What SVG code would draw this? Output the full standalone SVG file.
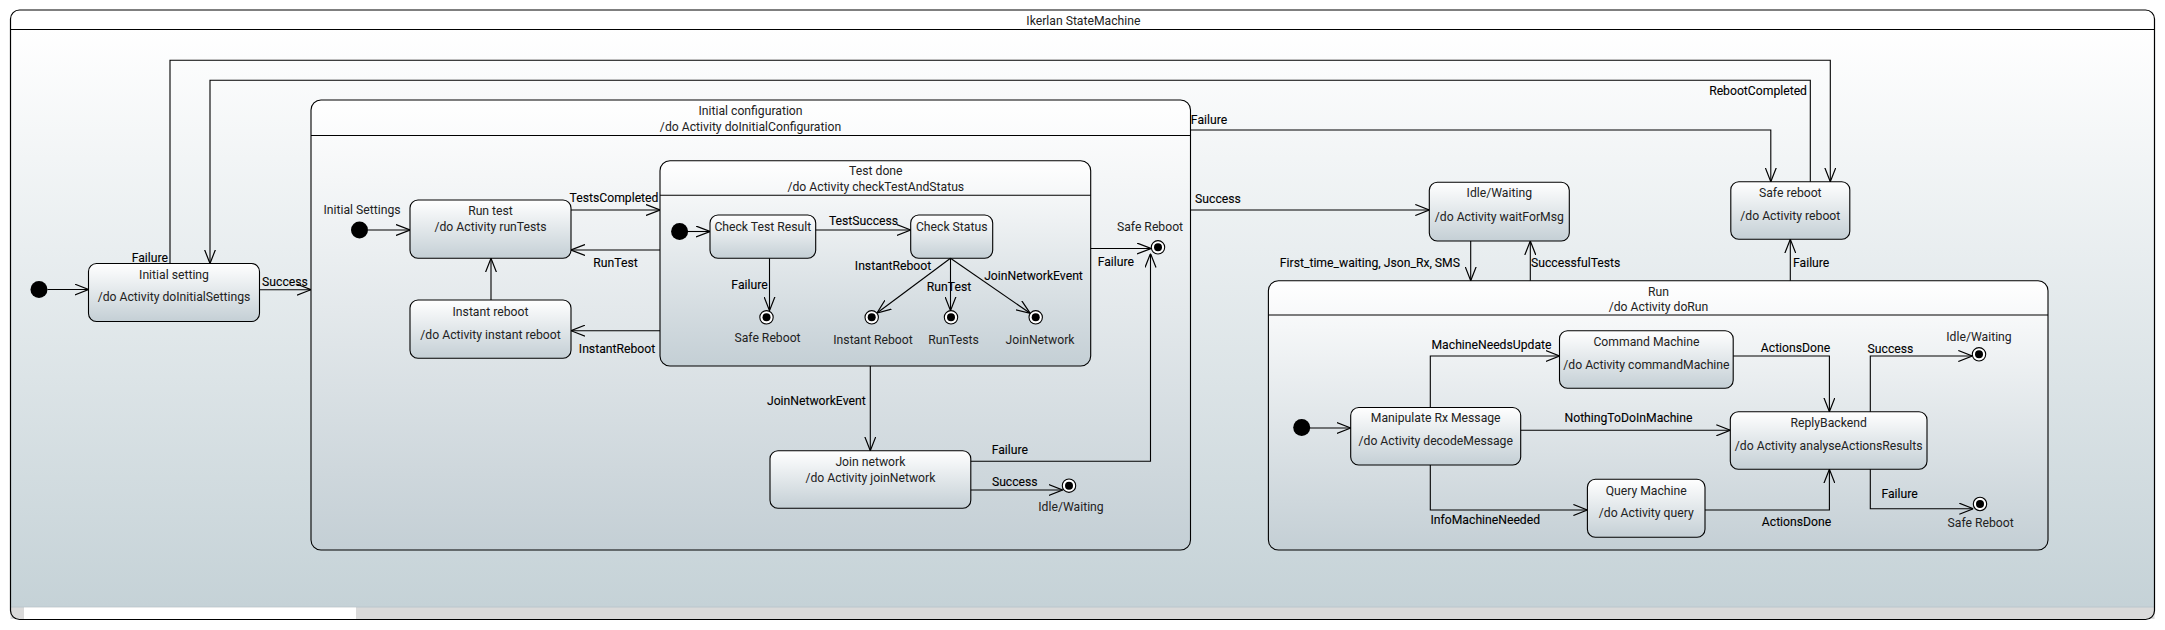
<svg xmlns="http://www.w3.org/2000/svg" width="2165" height="630" viewBox="0 0 2165 630">
<style>
text{font-family:Roboto,"Liberation Sans",sans-serif;font-size:12.2px;fill:#222}
.m{text-anchor:middle}
.e{text-anchor:end}
.l{fill:#000;stroke:#000;stroke-width:0.1}
.box{fill:url(#ng);stroke:#000;stroke-width:1.1}
.sep{stroke:#000;stroke-width:1.1}
.c{fill:none;stroke:#000;stroke-width:1.1;marker-end:url(#arr)}
.ini{fill:#000}
.fo{fill:#fff;stroke:#000;stroke-width:1.1}
.fi{fill:#000}
</style>
<defs>
<linearGradient id="ng" x1="0" y1="0" x2="0" y2="1">
<stop offset="0" stop-color="#ffffff"/>
<stop offset="1" stop-color="#c4cfd5"/>
</linearGradient>
<linearGradient id="bg" gradientUnits="userSpaceOnUse" x1="0" y1="29" x2="0" y2="607">
<stop offset="0" stop-color="#ffffff"/>
<stop offset="1" stop-color="#c5d2d7"/>
</linearGradient>
<marker id="arr" viewBox="0 0 14 12" refX="14" refY="6" markerWidth="14" markerHeight="12" markerUnits="userSpaceOnUse" orient="auto">
<path d="M0,0.5 L14,6 L0,11.5" fill="none" stroke="#000" stroke-width="1.2"/>
</marker>
</defs>

<g id="frame">
<rect x="10.5" y="10" width="2144" height="609.5" rx="9" fill="url(#bg)"/>
<rect x="10.5" y="607" width="2144" height="12" fill="#dadada"/>
<line x1="10.5" y1="607" x2="2154.5" y2="607" stroke="#bac6cc" stroke-width="1"/>
<rect x="24" y="607.5" width="332" height="11.5" fill="#ffffff"/>
<rect x="10.5" y="10" width="2144" height="609.5" rx="9" fill="none" stroke="#000" stroke-width="1.2"/>
<line class="sep" x1="10.5" y1="29.5" x2="2154.5" y2="29.5"/>
<text class="m" x="1083.4" y="25">Ikerlan StateMachine</text>
</g>

<g id="initial-top">
<circle class="ini" cx="39" cy="289.5" r="8.5"/>
</g>

<g id="initial-setting">
<rect class="box" x="88.5" y="263.5" width="171" height="58" rx="8"/>
<text class="m" x="174" y="278.5">Initial setting</text>
<text class="m" x="174" y="301">/do Activity doInitialSettings</text>
</g>

<g id="initial-configuration">
<rect class="box" x="311" y="100" width="879.5" height="450" rx="10"/>
<line class="sep" x1="311" y1="135.5" x2="1190.5" y2="135.5"/>
<text class="m" x="750.5" y="115">Initial configuration</text>
<text class="m" x="750.5" y="131">/do Activity doInitialConfiguration</text>
</g>

<g id="initial-settings-pseudo">
<circle class="ini" cx="359.5" cy="230" r="8.5"/>
<text class="m" x="362" y="213.5">Initial Settings</text>
</g>

<g id="run-test">
<rect class="box" x="410" y="200" width="161" height="58.3" rx="8"/>
<text class="m" x="490.5" y="215">Run test</text>
<text class="m" x="490.5" y="231">/do Activity runTests</text>
</g>

<g id="instant-reboot">
<rect class="box" x="410" y="300" width="161" height="58.3" rx="8"/>
<text class="m" x="490.5" y="315.5">Instant reboot</text>
<text class="m" x="490.5" y="338.5">/do Activity instant reboot</text>
</g>

<g id="test-done">
<rect class="box" x="660" y="160.7" width="430.7" height="205.3" rx="10"/>
<line class="sep" x1="660" y1="195.3" x2="1090.7" y2="195.3"/>
<text class="m" x="875.8" y="175.2">Test done</text>
<text class="m" x="875.8" y="191">/do Activity checkTestAndStatus</text>
</g>

<g id="test-done-initial">
<circle class="ini" cx="679.6" cy="231.5" r="8.5"/>
</g>

<g id="check-test-result">
<rect class="box" x="710" y="215" width="105.7" height="43.3" rx="8"/>
<text class="m" x="762.8" y="230.5">Check Test Result</text>
</g>

<g id="check-status">
<rect class="box" x="910.7" y="215" width="82" height="43.3" rx="8"/>
<text class="m" x="951.7" y="230.5">Check Status</text>
</g>

<g id="final-safe-reboot-inner">
<circle class="fo" cx="766.5" cy="317.3" r="6.7"/>
<circle class="fi" cx="766.5" cy="317.3" r="4"/>
<text class="m" x="767.5" y="342">Safe Reboot</text>
</g>

<g id="final-instant-reboot">
<circle class="fo" cx="871.7" cy="317.3" r="6.7"/>
<circle class="fi" cx="871.7" cy="317.3" r="4"/>
<text class="m" x="873" y="343.8">Instant Reboot</text>
</g>

<g id="final-run-tests">
<circle class="fo" cx="951" cy="317.3" r="6.7"/>
<circle class="fi" cx="951" cy="317.3" r="4"/>
<text class="m" x="953.5" y="343.8">RunTests</text>
</g>

<g id="final-join-network">
<circle class="fo" cx="1035.7" cy="317.3" r="6.7"/>
<circle class="fi" cx="1035.7" cy="317.3" r="4"/>
<text class="m" x="1040" y="343.8">JoinNetwork</text>
</g>

<g id="final-safe-reboot-config">
<circle class="fo" cx="1158" cy="247.3" r="6.7"/>
<circle class="fi" cx="1158" cy="247.3" r="4"/>
<text class="m" x="1150" y="230.5">Safe Reboot</text>
</g>

<g id="join-network">
<rect class="box" x="770" y="450.7" width="200.8" height="57.6" rx="8"/>
<text class="m" x="870.4" y="465.5">Join network</text>
<text class="m" x="870.4" y="481.5">/do Activity joinNetwork</text>
</g>

<g id="final-idle-config">
<circle class="fo" cx="1069" cy="485.7" r="6.7"/>
<circle class="fi" cx="1069" cy="485.7" r="4"/>
<text class="m" x="1071" y="510.5">Idle/Waiting</text>
</g>

<g id="idle-waiting">
<rect class="box" x="1429.3" y="182.3" width="140" height="58.7" rx="8"/>
<text class="m" x="1499.3" y="197.2">Idle/Waiting</text>
<text class="m" x="1499.3" y="220.5">/do Activity waitForMsg</text>
</g>

<g id="safe-reboot">
<rect class="box" x="1730.8" y="181.7" width="119" height="57.6" rx="8"/>
<text class="m" x="1790.3" y="196.5">Safe reboot</text>
<text class="m" x="1790.3" y="219.5">/do Activity reboot</text>
</g>

<g id="run">
<rect class="box" x="1268.4" y="280.7" width="779.6" height="269.3" rx="10"/>
<line class="sep" x1="1268.4" y1="315" x2="2048" y2="315"/>
<text class="m" x="1658.5" y="295.5">Run</text>
<text class="m" x="1658.5" y="311">/do Activity doRun</text>
</g>

<g id="run-initial">
<circle class="ini" cx="1301.7" cy="427.5" r="8.5"/>
</g>

<g id="manipulate-rx-message">
<rect class="box" x="1350.7" y="407.5" width="170" height="57.5" rx="8"/>
<text class="m" x="1435.7" y="422">Manipulate Rx Message</text>
<text class="m" x="1435.7" y="445">/do Activity decodeMessage</text>
</g>

<g id="command-machine">
<rect class="box" x="1559.5" y="330.7" width="173.7" height="57.6" rx="8"/>
<text class="m" x="1646.4" y="345.5">Command Machine</text>
<text class="m" x="1646.4" y="368.5">/do Activity commandMachine</text>
</g>

<g id="query-machine">
<rect class="box" x="1587.4" y="479.3" width="117.6" height="58" rx="8"/>
<text class="m" x="1646.2" y="494.5">Query Machine</text>
<text class="m" x="1646.2" y="517">/do Activity query</text>
</g>

<g id="reply-backend">
<rect class="box" x="1730.3" y="411.7" width="196.7" height="57.6" rx="8"/>
<text class="m" x="1828.7" y="426.5">ReplyBackend</text>
<text class="m" x="1828.7" y="449.5">/do Activity analyseActionsResults</text>
</g>

<g id="final-idle-run">
<circle class="fo" cx="1979" cy="354.3" r="6.7"/>
<circle class="fi" cx="1979" cy="354.3" r="4"/>
<text class="m" x="1979" y="340.5">Idle/Waiting</text>
</g>

<g id="final-safe-reboot-run">
<circle class="fo" cx="1980" cy="504" r="6.7"/>
<circle class="fi" cx="1980" cy="504" r="4"/>
<text class="m" x="1980.6" y="527">Safe Reboot</text>
</g>

<g id="connectors">
<path class="c" d="M47.5,289.5 H88.5"/>
<path class="c" d="M259.5,289.7 H311"/>
<text class="l m" x="285" y="285.5">Success</text>

<path class="c" d="M170,263.5 V60.3 H1830.3 V181.7"/>
<text class="l e" x="168" y="262">Failure</text>

<path class="c" d="M1810.3,181.7 V80.3 H210 V263.5"/>
<text class="l e" x="1807" y="95">RebootCompleted</text>

<path class="c" d="M368,230 H410"/>
<path class="c" d="M571,210 H660"/>
<text class="l m" x="614" y="202">TestsCompleted</text>
<path class="c" d="M660,250 H571"/>
<text class="l m" x="615.5" y="266.5">RunTest</text>
<path class="c" d="M660,330.7 H571"/>
<text class="l m" x="617" y="352.5">InstantReboot</text>
<path class="c" d="M491,300 V258.3"/>

<path class="c" d="M688,231.5 H710"/>
<path class="c" d="M815.7,230 H910.7"/>
<text class="l m" x="863.5" y="224.5">TestSuccess</text>
<path class="c" d="M769.5,258.3 V310.6"/>
<text class="l m" x="749.5" y="288.5">Failure</text>

<path class="c" d="M950.5,258.3 L877,313"/>
<text class="l m" x="893" y="269.5">InstantReboot</text>
<path class="c" d="M950.5,258.3 V310.6"/>
<text class="l m" x="949" y="290.5">RunTest</text>
<path class="c" d="M950.5,258.3 L1030.2,313.3"/>
<text class="l m" x="1033.5" y="279.5">JoinNetworkEvent</text>

<path class="c" d="M1090.7,248.5 H1151"/>
<text class="l m" x="1115.8" y="265.5">Failure</text>

<path class="c" d="M870.3,366 V450.7"/>
<text class="l m" x="816.3" y="405">JoinNetworkEvent</text>

<path class="c" d="M970.8,461.3 H1150.5 V253.5"/>
<text class="l m" x="1009.8" y="453.5">Failure</text>
<path class="c" d="M970.8,490 H1062.5"/>
<text class="l m" x="1014.8" y="485.5">Success</text>

<path class="c" d="M1190.5,130 H1770.8 V181.7"/>
<text class="l m" x="1209" y="123.5">Failure</text>
<path class="c" d="M1190.5,210 H1429.3"/>
<text class="l m" x="1218" y="202.5">Success</text>

<path class="c" d="M1470.7,241 V280.7"/>
<text class="l e" x="1460" y="266.5">First_time_waiting, Json_Rx, SMS</text>
<path class="c" d="M1530.3,280.7 V241"/>
<text class="l" x="1531" y="266.5">SuccessfulTests</text>
<path class="c" d="M1790.3,280.7 V239.3"/>
<text class="l" x="1793" y="266.5">Failure</text>

<path class="c" d="M1310,428 H1350.7"/>
<path class="c" d="M1430.3,407.5 V356 H1559.5"/>
<text class="l m" x="1491.5" y="349">MachineNeedsUpdate</text>
<path class="c" d="M1520.7,430.3 H1730.3"/>
<text class="l m" x="1628.5" y="422">NothingToDoInMachine</text>
<path class="c" d="M1430.3,465 V510 H1587.4"/>
<text class="l" x="1430.5" y="523.5">InfoMachineNeeded</text>
<path class="c" d="M1733.2,356 H1829.4 V411.7"/>
<text class="l m" x="1795.5" y="351.5">ActionsDone</text>
<path class="c" d="M1705,510 H1829.4 V469.3"/>
<text class="l m" x="1796.5" y="525.5">ActionsDone</text>
<path class="c" d="M1870.3,411.7 V356 H1972.3"/>
<text class="l m" x="1890.5" y="352.8">Success</text>
<path class="c" d="M1870.3,469.3 V508.7 H1973.3"/>
<text class="l m" x="1899.6" y="498">Failure</text>
</g>
</svg>
